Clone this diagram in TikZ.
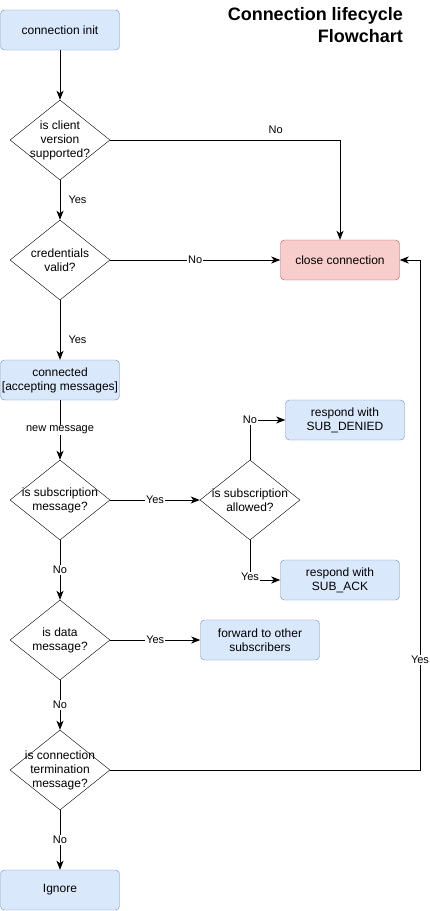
\documentclass[tikz,border=0pt]{standalone}
\usepackage{fontspec}
\setmainfont{Liberation Sans}
\usetikzlibrary{shapes.geometric,arrows.meta}
\definecolor{boxfill}{HTML}{DAE8FC}
\definecolor{boxline}{HTML}{6C8EBF}
\definecolor{closefill}{HTML}{F8CECC}
\definecolor{closeline}{HTML}{B85450}

\begin{document}
\begin{tikzpicture}[x=1pt,y=-1pt,
    box/.style={draw=boxline,fill=boxfill,rounded corners=4pt,minimum width=119pt,minimum height=40pt,
                inner sep=0pt,align=center,font=\fontsize{12}{14}\selectfont},
    closebox/.style={box,draw=closeline,fill=closefill},
    decision/.style={draw,diamond,minimum width=100pt,minimum height=80pt,inner sep=-10pt,
                align=center,font=\fontsize{12}{14}\selectfont},
    flow/.style={draw,line width=1pt,-{Stealth[length=9pt,width=7pt,inset=2.5pt]}},
    lbl/.style={fill=white,inner sep=1pt,font=\fontsize{11}{13}\selectfont}]
  \useasboundingbox (0,0) rectangle (429,911);
  \pgfmathsetmacro\lcol{60}    % main column
  \pgfmathsetmacro\rloop{420}  % return line at right

% title
  \node[anchor=north east,align=right,inner sep=0pt,font=\fontsize{18}{21.6}\selectfont\bfseries]
    (title) at (403,7.5) {Connection lifecycle\\Flowchart};

% handshake
  \node[box]      (init)      at (\lcol,30)  {connection init};
  \node[decision] (version)   at (\lcol,140) {is client\\version\\supported?};
  \node[decision] (creds)     at (\lcol,260) {credentials\\valid?};
  \node[closebox] (close)     at (340,260)   {close connection};
  \node[box]      (connected) at (\lcol,380) {connected\\{[accepting messages]}};

% message handling
  \node[decision] (subq)   at (\lcol,500) {is subscription\\message?};
  \node[decision] (allowq) at (250,500)   {is subscription\\allowed?};
  \node[box]      (denied) at (345,420)   {respond with\\SUB\_DENIED};
  \node[box]      (ack)    at (340,580)   {respond with\\SUB\_ACK};
  \node[decision] (dataq)  at (\lcol,640) {is data\\message?};
  \node[box]      (fwd)    at (260,640)   {forward to other\\subscribers};
  \node[decision] (termq)  at (\lcol,770) {is connection\\termination\\message?};
  \node[box]      (ignore) at (\lcol,890) {Ignore};
  \coordinate (loop) at (\rloop,770);

% connectors
  \draw[flow] (init) -- (version);
  \draw[flow] (version) -| node[lbl,pos=0.36,above=5pt] {No} (close);
  \draw[flow] (version) -- node[lbl,right=7pt] {Yes} (creds);
  \draw[flow] (creds) -- node[lbl] {No} (close);
  \draw[flow] (creds) -- node[lbl,pos=0.67,right=7pt] {Yes} (connected);
  \draw[flow] (connected) -- node[lbl] {new message} (subq);
  \draw[flow] (subq) -- node[lbl] {Yes} (allowq);
  \draw[flow] (allowq) |- node[lbl,pos=0.5] {No} (denied);
  \draw[flow] (allowq) |- node[lbl,pos=0.5,yshift=3pt] {Yes} (ack);
  \draw[flow] (subq) -- node[lbl] {No} (dataq);
  \draw[flow] (dataq) -- node[lbl] {Yes} (fwd);
  \draw[flow] (dataq) -- node[lbl] {No} (termq);
  \draw[flow] (termq) -- node[lbl] {No} (ignore);
  \draw[flow] (termq) -- (loop) |- node[lbl,pos=0.108] {Yes} (close);
\end{tikzpicture}
\end{document}
